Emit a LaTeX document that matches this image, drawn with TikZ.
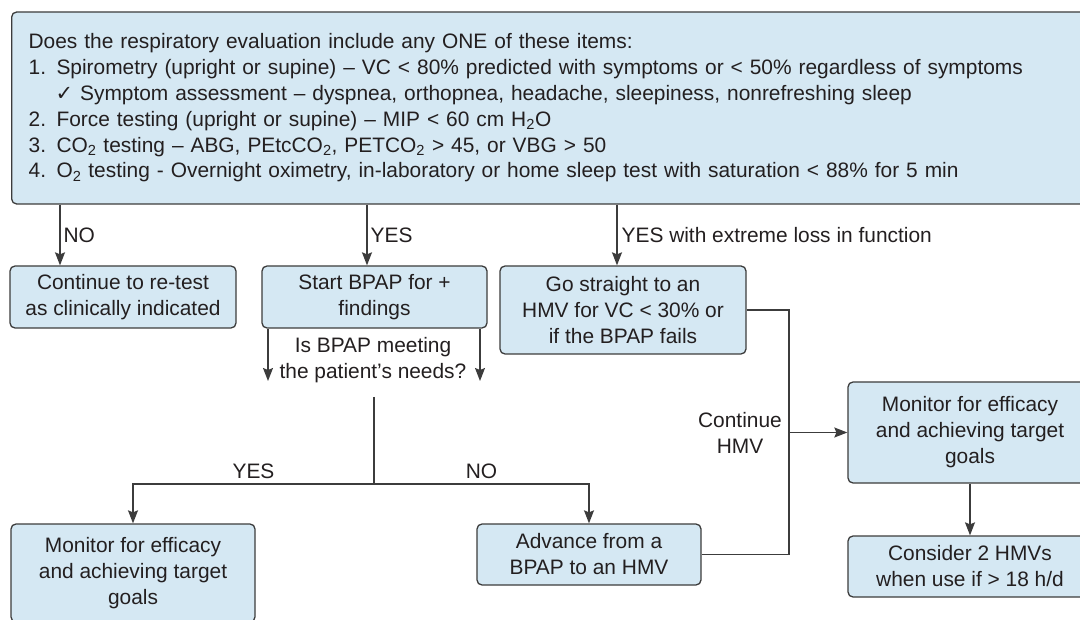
\documentclass[tikz,border=0pt]{standalone}
\usepackage{fontspec}
\setmainfont{Liberation Sans}
\newfontfamily\checkfont{DejaVu Sans}
\usetikzlibrary{arrows.meta,positioning,calc}

\definecolor{boxfill}{HTML}{D5E8F3}
\definecolor{boxline}{HTML}{3C3C3C}
\definecolor{inkgray}{HTML}{231F20}

\tikzset{
	flowbox/.style={draw=boxline, line width=1.3pt, fill=boxfill, rounded corners=5pt,
		align=center, inner sep=0pt, text=inkgray},
	flowline/.style={draw=boxline, line width=1.3pt},
	flowarrow/.style={flowline, -{Stealth[length=13pt,width=10pt,inset=2pt]}},
	lbl/.style={text=inkgray, inner sep=2pt, align=center},
}

\begin{document}
\begin{tikzpicture}[
		x=1pt, y=-1pt,
		font=\fontsize{20.9}{26}\selectfont,
	]
	\useasboundingbox (0,0) rectangle (1080,620);
	\clip (0,0) rectangle (1080,620);

	% question box
	\node[flowbox, anchor=west, align=left, text width=1070pt, inner xsep=17pt,
		minimum height=192pt, font=\fontsize{20.9}{25.8}\selectfont] (top) at (11,108) {%
		Does the respiratory evaluation include any ONE of these items:\\
		1. Spirometry (upright or supine) -- VC < 80\% predicted with symptoms or < 50\% regardless of symptoms\\
		\hspace*{27pt}{\checkfont ✓} Symptom assessment -- dyspnea, orthopnea, headache, sleepiness, nonrefreshing sleep\\
		2. Force testing (upright or supine) -- MIP < 60 cm H\textsubscript{2}O\\
		3. CO\textsubscript{2} testing -- ABG, PEtcCO\textsubscript{2}, PETCO\textsubscript{2} > 45, or VBG > 50\\
		4. O\textsubscript{2} testing - Overnight oximetry, in-laboratory or home sleep test with saturation < 88\% for 5 min};

	% first row
	\node[flowbox, minimum width=226pt, minimum height=62pt] (cont) at (123,297)
		{Continue to re-test\\as clinically indicated};
	\node[flowbox, minimum width=225pt, minimum height=62pt] (bpap) at (374.5,297)
		{Start BPAP for +\\findings};
	\node[flowbox, minimum width=246pt, minimum height=88pt] (hmv) at (623,310)
		{Go straight to an\\HMV for VC < 30\% or\\if the BPAP fails};

	% lower boxes
	\node[flowbox, minimum width=244pt, minimum height=98pt] (mon1) at (133,573)
		{Monitor for efficacy\\and achieving target\\goals};
	\node[flowbox, minimum width=224pt, minimum height=61pt] (adv) at (589,554.5)
		{Advance from a\\BPAP to an HMV};
	\node[flowbox, minimum width=244pt, minimum height=101pt] (mon2) at (970,432.5)
		{Monitor for efficacy\\and achieving target\\goals};
	\node[flowbox, minimum width=244pt, minimum height=61pt] (cons) at (970,566.5)
		{Consider 2 HMVs\\when use if > 18 h/d};

	% answers to the question box
	\draw[flowarrow] (60,0 |- top.south) -- (60,0 |- cont.north)
		node[lbl, midway, right=1pt] {NO};
	\draw[flowarrow] (367,0 |- top.south) -- (367,0 |- bpap.north)
		node[lbl, midway, right=1pt] {YES};
	\draw[flowarrow] (617,0 |- top.south) -- (617,0 |- hmv.north)
		node[lbl, midway, right=2pt] {YES with extreme loss in function};

	% BPAP check
	\coordinate (qL) at (268,381);
	\coordinate (qR) at (480,381);
	\draw[flowarrow] (qL |- bpap.south) -- (qL);
	\draw[flowarrow] (qR |- bpap.south) -- (qR);
	\node[lbl] (ask) at (373,360) {Is BPAP meeting\\the patient's needs?};

	\coordinate (stem) at (374,397);
	\coordinate (split) at (374,484);
	\draw[flowline] (stem) -- (split);
	\draw[flowarrow] (split) -| (mon1.north) node[lbl, pos=0.25, above=3pt] {YES};
	\draw[flowarrow] (split) -| (adv.north) node[lbl, pos=0.25, above=3pt] {NO};

	% HMV branch
	\coordinate (hmvline) at (789,0);
	\draw[flowline] (hmv.east) -- (hmvline |- hmv.east) -- (hmvline |- adv.east) -- (adv.east);
	\draw[flowarrow] (hmvline |- mon2.west) -- (mon2.west);
	\node[lbl, left=5pt] (conthmv) at (hmvline |- mon2.west) {Continue\\HMV};
	\draw[flowarrow] (mon2.south) -- (cons.north);

\end{tikzpicture}
\end{document}
